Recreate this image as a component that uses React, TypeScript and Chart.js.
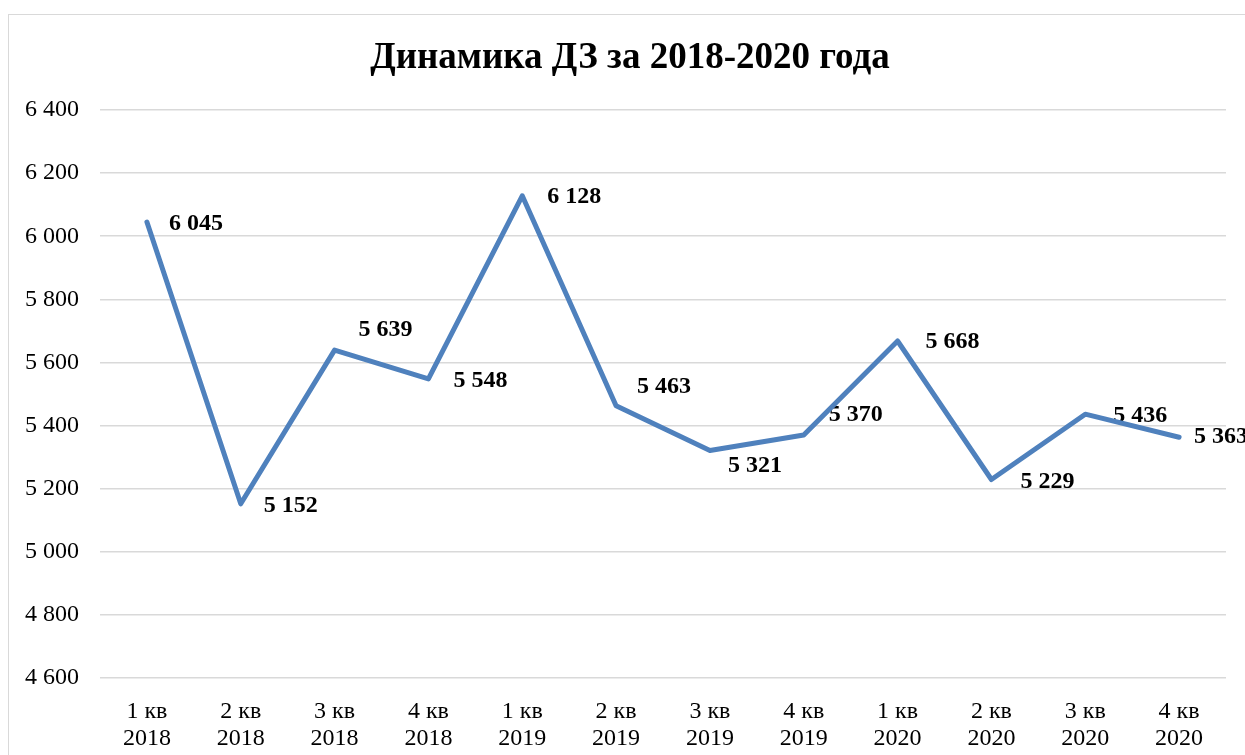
import React, { useEffect, useRef } from "react";
import { Chart, registerables } from "chart.js";

Chart.register(...registerables);

const TITLE = "Динамика ДЗ за 2018-2020 года";
const quarters = ["1 кв", "2 кв", "3 кв", "4 кв", "1 кв", "2 кв", "3 кв", "4 кв", "1 кв", "2 кв", "3 кв", "4 кв"];
const years = ["2018", "2018", "2018", "2018", "2019", "2019", "2019", "2019", "2020", "2020", "2020", "2020"];
const values = [6045, 5152, 5639, 5548, 6128, 5463, 5321, 5370, 5668, 5229, 5436, 5363];
const yMin = 4600;
const yMax = 6400;
const yStep = 200;
// label offsets (styling only): [dx, dy] relative to point
const labelOffsets: [number, number][] = [
  [22, 2], [23, 2], [24, -20], [25, 2], [25, 1], [21, -19],
  [18, 15], [25, -20], [28, 1], [29, 2], [28, 2], [15, 0],
];

const fmt = (v: number) => String(v).replace(/\B(?=(\d{3})+(?!\d))/g, " ");
const FONT = "'Liberation Serif', 'Times New Roman', serif";

export default function App() {
  const ref = useRef<HTMLCanvasElement | null>(null);
  useEffect(() => {
    if (!ref.current) return;
    const labelsPlugin = {
      id: "valueLabels",
      beforeDatasetsDraw(chart: any) {
        const ctx = chart.ctx;
        const meta = chart.getDatasetMeta(0);
        ctx.save();
        ctx.font = `bold 24px ${FONT}`;
        ctx.fillStyle = "#000";
        ctx.textAlign = "left";
        ctx.textBaseline = "middle";
        meta.data.forEach((pt: any, i: number) => {
          const [dx, dy] = labelOffsets[i];
          ctx.fillText(fmt(values[i]), pt.x + dx, pt.y + dy);
        });
        ctx.restore();
      },
      afterDraw(chart: any) {
        const ctx = chart.ctx;
        ctx.save();
        ctx.font = `bold 37px ${FONT}`;
        ctx.fillStyle = "#000";
        ctx.textAlign = "center";
        ctx.textBaseline = "middle";
        ctx.fillText(TITLE, 630, 58);
        ctx.restore();
      },
    };
    const chart = new Chart(ref.current, {
      type: "line",
      data: {
        labels: quarters.map((q, i) => [q, years[i]]),
        datasets: [
          {
            data: values,
            borderColor: "#4F81BD",
            borderWidth: 5,
            pointRadius: 0,
            tension: 0,
            borderCapStyle: "round",
            borderJoinStyle: "round",
          },
        ],
      },
      options: {
        animation: false,
        responsive: false,
        layout: { padding: { top: 110, right: 19, left: 0, bottom: 0 } },
        plugins: { legend: { display: false }, tooltip: { enabled: false }, title: { display: false } },
        scales: {
          x: {
            offset: true,
            grid: { display: false, drawTicks: false },
            border: { display: false },
            ticks: {
              color: "#000",
              font: { family: FONT, size: 24, lineHeight: 1.1 },
              padding: 21,
              maxRotation: 0,
              autoSkip: false,
            },
            afterFit: (s: any) => { s.height = 77; },
          },
          y: {
            min: yMin,
            max: yMax,
            grid: { color: "#d9d9d9", lineWidth: 1.5, drawTicks: false },
            border: { display: false },
            ticks: {
              stepSize: yStep,
              color: "#000",
              font: { family: FONT, size: 24 },
              padding: 21,
              callback: (v: any) => fmt(Number(v)),
            },
            afterFit: (s: any) => { s.width = 100; },
          },
        },
      },
      plugins: [labelsPlugin],
    });
    return () => chart.destroy();
  }, []);
  return (
    <div style={{ position: "absolute", left: 0, top: 0, width: 1245, height: 755, overflow: "hidden", background: "#fff" }}>
      <div style={{ position: "absolute", left: 8, top: 14, width: 1300, height: 800, border: "1.5px solid #d9d9d9" }} />
      <canvas ref={ref} width={1245} height={755} style={{ position: "absolute", left: 0, top: 0 }} />
    </div>
  );
}
